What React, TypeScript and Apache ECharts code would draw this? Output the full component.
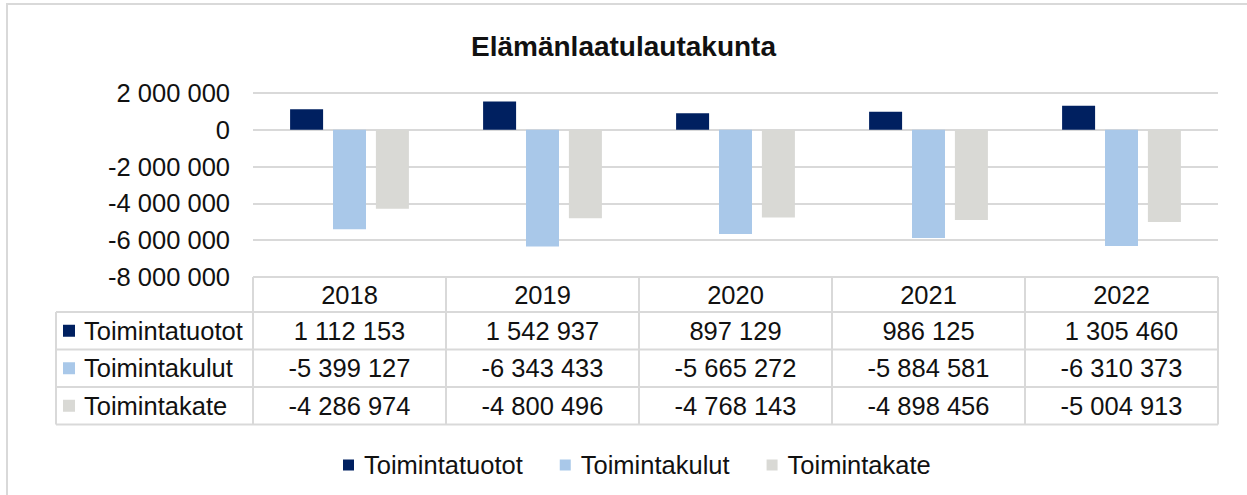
import React, { useEffect, useRef } from "react";
import * as echarts from "echarts";

const title = "Elämänlaatulautakunta";
const years = ["2018", "2019", "2020", "2021", "2022"];
const seriesNames = ["Toimintatuotot", "Toimintakulut", "Toimintakate"];
const toimintatuotot = [1112153, 1542937, 897129, 986125, 1305460];
const toimintakulut = [-5399127, -6343433, -5665272, -5884581, -6310373];
const toimintakate = [-4286974, -4800496, -4768143, -4898456, -5004913];
const yTicks = { min: -8000000, max: 2000000, interval: 2000000 };

const COLORS = ["#002060", "#A9C8E9", "#D9D9D5"];
const GRID_COLOR = "#D9D9D9";
const TEXT = "#111111";
const FONT = "'Liberation Sans', Arial, sans-serif";
const FS = 25.5;

function fmt(n: number): string {
  const s = String(Math.abs(Math.round(n))).replace(/\B(?=(\d{3})+(?!\d))/g, " ");
  return (n < 0 ? "-" : "") + s;
}

export default function App() {
  const ref = useRef<HTMLDivElement>(null);
  useEffect(() => {
    if (!ref.current) return;
    const chart = echarts.init(ref.current, undefined, { renderer: "svg" });
    const W = 1247;
    const H = 495;
    const GL = 253;
    const GR = 1218;
    const GT = 93;
    const GB = 277;
    const colW = (GR - GL) / years.length;
    const TL = 56;
    const rowsY = [277, 312, 349.5, 387, 424.5];
    const data = [toimintatuotot, toimintakulut, toimintakate];

    const graphics: any[] = [];
    graphics.push({
      type: "rect",
      shape: { x: 7, y: 4, width: 1300, height: 600 },
      style: { fill: "none", stroke: GRID_COLOR, lineWidth: 2 },
      silent: true,
    });
    graphics.push({
      type: "line",
      shape: { x1: GL, y1: rowsY[0], x2: GR, y2: rowsY[0] },
      style: { stroke: GRID_COLOR, lineWidth: 2 },
    });
    for (let r = 1; r < rowsY.length; r++) {
      graphics.push({
        type: "line",
        shape: { x1: TL, y1: rowsY[r], x2: GR, y2: rowsY[r] },
        style: { stroke: GRID_COLOR, lineWidth: 2 },
      });
    }
    graphics.push({
      type: "line",
      shape: { x1: TL, y1: rowsY[1], x2: TL, y2: rowsY[4] },
      style: { stroke: GRID_COLOR, lineWidth: 2 },
    });
    for (let i = 0; i <= years.length; i++) {
      const x = GL + i * colW;
      graphics.push({
        type: "line",
        shape: { x1: x, y1: rowsY[0], x2: x, y2: rowsY[4] },
        style: { stroke: GRID_COLOR, lineWidth: 2 },
      });
    }
    years.forEach((yr, i) => {
      graphics.push({
        type: "text",
        style: {
          text: yr,
          x: GL + i * colW + colW / 2,
          y: (rowsY[0] + rowsY[1]) / 2,
          fill: TEXT,
          fontSize: FS,
          fontFamily: FONT,
          align: "center",
          verticalAlign: "middle",
        },
      });
    });
    seriesNames.forEach((name, r) => {
      const cy = (rowsY[r + 1] + rowsY[r + 2]) / 2;
      graphics.push({
        type: "rect",
        shape: { x: 63, y: cy - 6, width: 12, height: 12 },
        style: { fill: COLORS[r] },
      });
      graphics.push({
        type: "text",
        style: {
          text: name,
          x: 84,
          y: cy,
          fill: TEXT,
          fontSize: FS,
          fontFamily: FONT,
          align: "left",
          verticalAlign: "middle",
        },
      });
      data[r].forEach((v, i) => {
        graphics.push({
          type: "text",
          style: {
            text: fmt(v),
            x: GL + i * colW + colW / 2,
            y: cy,
            fill: TEXT,
            fontSize: FS,
            fontFamily: FONT,
            align: "center",
            verticalAlign: "middle",
          },
        });
      });
    });

    chart.setOption({
      animation: false,
      backgroundColor: "#ffffff",
      title: {
        text: title,
        left: "center",
        top: 27,
        textStyle: { fontSize: 28, fontWeight: "bold", color: TEXT, fontFamily: FONT },
      },
      legend: {
        data: seriesNames,
        left: 338,
        top: 447,
        icon: "rect",
        itemWidth: 11,
        itemHeight: 11,
        itemGap: 37,
        textStyle: { fontSize: FS, color: TEXT, fontFamily: FONT, padding: [0, 0, 0, 5] },
      },
      grid: { left: GL, right: W - GR, top: GT, bottom: H - GB, containLabel: false },
      xAxis: {
        type: "category",
        data: years,
        axisLine: { show: false },
        axisTick: { show: false },
        axisLabel: { show: false },
      },
      yAxis: {
        type: "value",
        min: yTicks.min,
        max: yTicks.max,
        interval: yTicks.interval,
        axisLine: { show: false },
        axisTick: { show: false },
        axisLabel: {
          formatter: (v: number) => fmt(v),
          fontSize: FS,
          color: TEXT,
          fontFamily: FONT,
          margin: 23,
        },
        splitLine: { lineStyle: { color: GRID_COLOR, width: 2 } },
      },
      series: seriesNames.map((name, i) => ({
        name,
        type: "bar",
        data: data[i],
        barWidth: 33,
        barGap: "30%",
        itemStyle: { color: COLORS[i] },
      })),
      graphic: graphics,
    });
    return () => chart.dispose();
  }, []);
  return (
    <div
      ref={ref}
      style={{ position: "fixed", left: 0, top: 0, width: 1247, height: 495 }}
    />
  );
}
